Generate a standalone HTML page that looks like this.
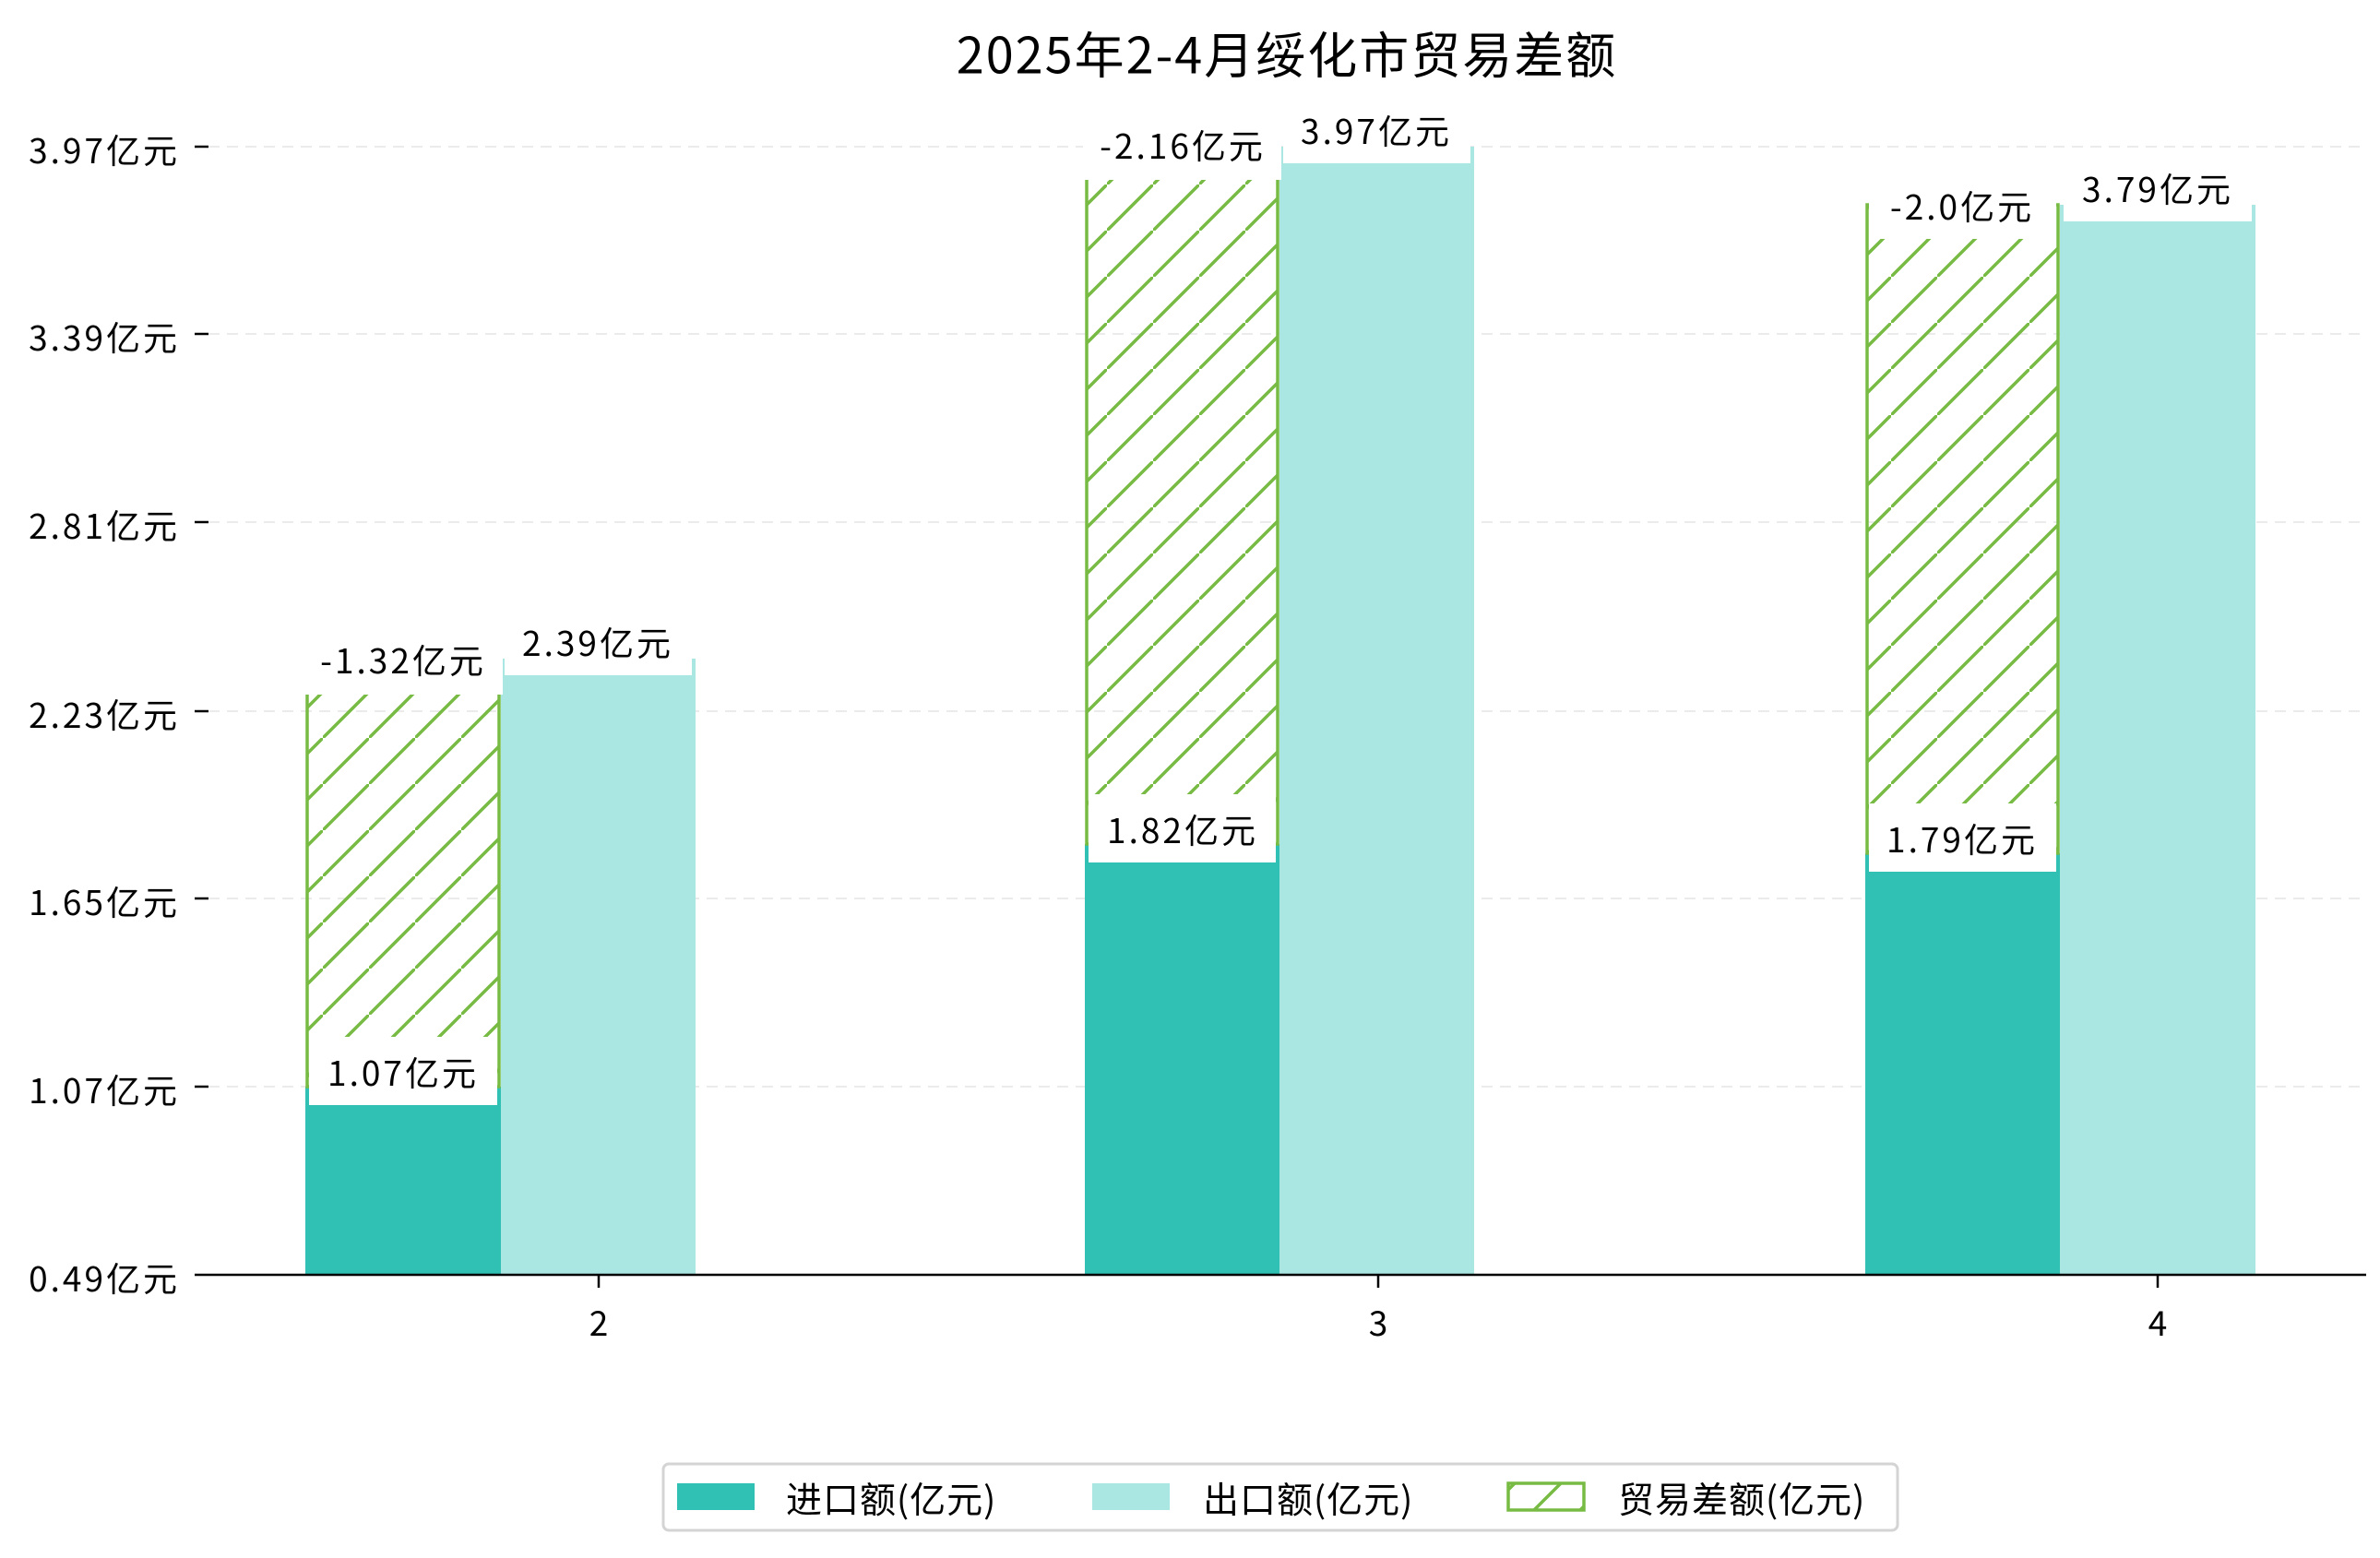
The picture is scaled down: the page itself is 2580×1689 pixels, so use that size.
<!DOCTYPE html>
<html><head><meta charset="utf-8"><style>
html,body{margin:0;padding:0;background:#fff}
svg{display:block}
text{font-family:"WenQuanYi Zen Hei","Noto Sans CJK SC",sans-serif;fill:#000}
.v{letter-spacing:3px}
</style></head><body>
<svg width="2580" height="1689" viewBox="0 0 2580 1689" xmlns="http://www.w3.org/2000/svg">
<defs>
<pattern id="h" patternUnits="userSpaceOnUse" width="50" height="50">
<line x1="-5" y1="55" x2="55" y2="-5" stroke="#78bb44" stroke-width="3.5"/>
</pattern>
</defs>
<rect width="2580" height="1689" fill="#fff"/>
<text x="1395" y="56" font-size="54" text-anchor="middle" dominant-baseline="central" style="letter-spacing:2px">2025年2-4月绥化市贸易差额</text>
<g stroke="#ebebeb" stroke-width="2" stroke-dasharray="12,8">
<line x1="226" y1="159" x2="2565" y2="159"/>
<line x1="226" y1="362" x2="2565" y2="362"/>
<line x1="226" y1="566" x2="2565" y2="566"/>
<line x1="226" y1="771" x2="2565" y2="771"/>
<line x1="226" y1="974" x2="2565" y2="974"/>
<line x1="226" y1="1178" x2="2565" y2="1178"/>
</g>
<g stroke="#000" stroke-width="2.5">
<line x1="211" y1="159" x2="226" y2="159"/>
<line x1="211" y1="362" x2="226" y2="362"/>
<line x1="211" y1="566" x2="226" y2="566"/>
<line x1="211" y1="771" x2="226" y2="771"/>
<line x1="211" y1="974" x2="226" y2="974"/>
<line x1="211" y1="1178" x2="226" y2="1178"/>
</g>
<g font-size="37" text-anchor="end" dominant-baseline="central" class="v">
<text x="195" y="161">3.97亿元</text>
<text x="195" y="364">3.39亿元</text>
<text x="195" y="568">2.81亿元</text>
<text x="195" y="773">2.23亿元</text>
<text x="195" y="976">1.65亿元</text>
<text x="195" y="1180">1.07亿元</text>
<text x="195" y="1384">0.49亿元</text>
</g>
<g>
<rect x="331" y="1178" width="212" height="204" fill="#31c0b4"/>
<rect x="543" y="714" width="211" height="668" fill="#abe7e2"/>
<rect x="1176" y="915" width="211" height="467" fill="#31c0b4"/>
<rect x="1387" y="159" width="211" height="1223" fill="#abe7e2"/>
<rect x="2022" y="925" width="211" height="457" fill="#31c0b4"/>
<rect x="2233" y="222" width="212" height="1160" fill="#abe7e2"/>
</g>
<g stroke="#78bb44" stroke-width="3.5" fill="url(#h)">
<rect x="333" y="714" width="208" height="464"/>
<rect x="1178" y="156" width="207" height="759"/>
<rect x="2024" y="222" width="207" height="703"/>
</g>
<g fill="#fff">
<rect x="335" y="1124" width="204" height="74"/>
<rect x="547" y="658" width="203" height="74"/>
<rect x="329" y="677" width="216" height="76"/>
<rect x="1180" y="861" width="203" height="74"/>
<rect x="1391" y="103" width="203" height="74"/>
<rect x="1174" y="119" width="215" height="76"/>
<rect x="2026" y="871" width="203" height="74"/>
<rect x="2237" y="166" width="204" height="74"/>
<rect x="2026" y="185" width="203" height="74"/>
</g>
<g font-size="37" text-anchor="middle" dominant-baseline="central" class="v">
<text x="437" y="1161">1.07亿元</text>
<text x="648" y="695">2.39亿元</text>
<text x="437" y="714">-1.32亿元</text>
<text x="1282" y="898">1.82亿元</text>
<text x="1492" y="140">3.97亿元</text>
<text x="1282" y="156">-2.16亿元</text>
<text x="2127" y="908">1.79亿元</text>
<text x="2339" y="203">3.79亿元</text>
<text x="2127" y="222">-2.0亿元</text>
</g>
<line x1="211" y1="1382" x2="2565" y2="1382" stroke="#000" stroke-width="2.5"/>
<g stroke="#000" stroke-width="2.5">
<line x1="649" y1="1382" x2="649" y2="1396"/>
<line x1="1494" y1="1382" x2="1494" y2="1396"/>
<line x1="2339" y1="1382" x2="2339" y2="1396"/>
</g>
<g font-size="37" text-anchor="middle" dominant-baseline="central">
<text x="649" y="1432">2</text>
<text x="1494" y="1432">3</text>
<text x="2339" y="1432">4</text>
</g>
<rect x="719" y="1587" width="1338" height="72" rx="6" fill="#fff" stroke="#d4d4d4" stroke-width="3"/>
<rect x="734" y="1608" width="84" height="29" fill="#31c0b4"/>
<rect x="1184" y="1608" width="84" height="29" fill="#abe7e2"/>
<rect x="1635" y="1608" width="82" height="29" fill="url(#h)" stroke="#78bb44" stroke-width="3.5"/>
<g font-size="39" dominant-baseline="central" style="letter-spacing:1px">
<text x="852" y="1624">进口额(亿元)</text>
<text x="1304" y="1624">出口额(亿元)</text>
<text x="1754" y="1624">贸易差额(亿元)</text>
</g>
</svg>
</body></html>
